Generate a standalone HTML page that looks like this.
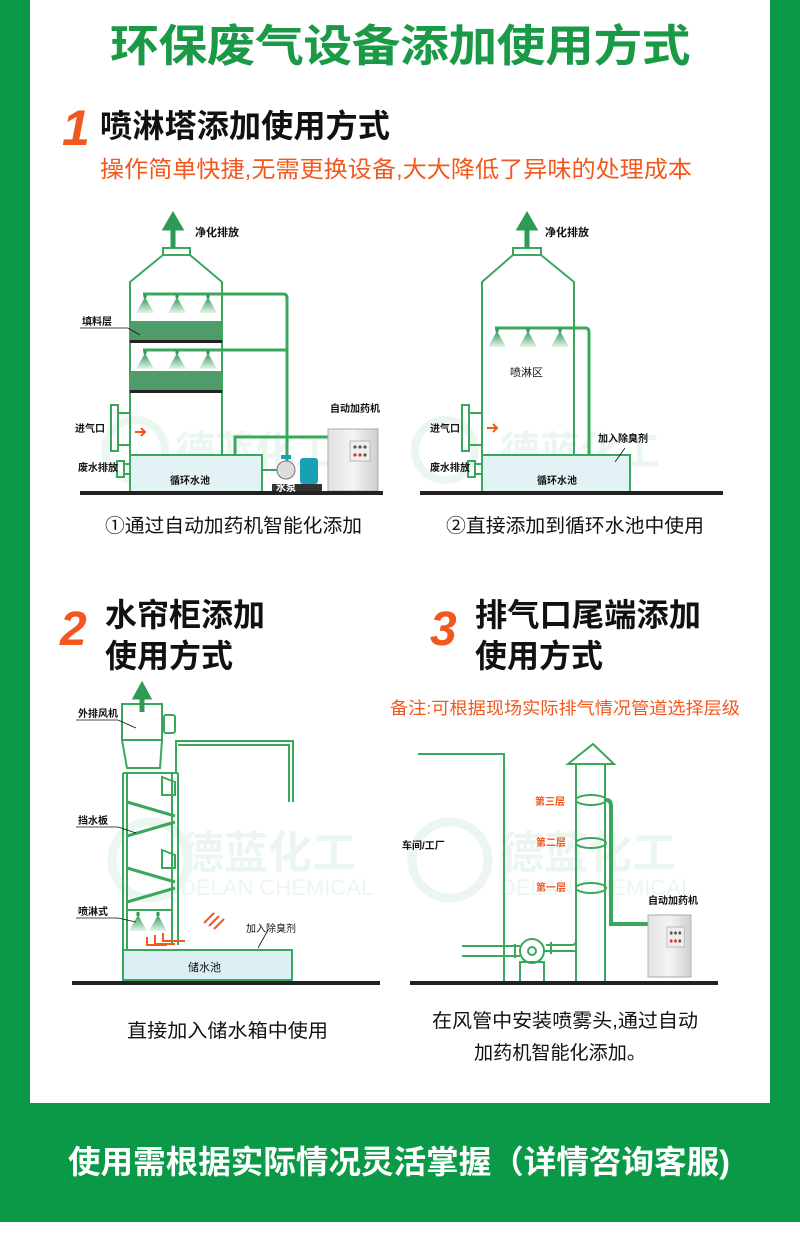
<!DOCTYPE html>
<html><head><meta charset="utf-8"><style>
body{margin:0;width:800px;height:1260px;position:relative;background:#fff;overflow:hidden;font-family:"Liberation Sans","Noto Sans CJK SC",sans-serif}
.g{position:absolute;background:#0a9a47}
svg{position:absolute;left:0;top:0}
</style></head><body>
<div class="g" style="left:0;top:0;width:30px;height:1222px"></div>
<div class="g" style="left:770px;top:0;width:30px;height:1222px"></div>
<div class="g" style="left:0;top:1103px;width:800px;height:119px"></div>
<div style="position:absolute;left:700px;top:1040px;width:70px;height:63px;background:#fff;border-bottom-right-radius:26px"></div>
<svg width="800" height="1260" viewBox="0 0 800 1260" font-family="Liberation Sans,Noto Sans CJK SC,sans-serif">
<defs>
<linearGradient id="noz" x1="0" y1="0" x2="0" y2="1"><stop offset="0" stop-color="#2e9a55"/><stop offset="1" stop-color="#e8f4ec"/></linearGradient>
<linearGradient id="cab" x1="0" y1="0" x2="1" y2="0"><stop offset="0" stop-color="#e2e2e2"/><stop offset="0.5" stop-color="#f4f4f4"/><stop offset="1" stop-color="#cfcfcf"/></linearGradient>
<g id="nz"><rect x="-1.5" y="0" width="3" height="4" fill="#2e9a55"/><path d="M0,3 L-9,19 L9,19 Z" fill="url(#noz)"/></g>
<g id="cabinet"><rect x="0" y="0" width="50" height="62" fill="url(#cab)" stroke="#aaa"/><rect x="22" y="12" width="20" height="20" fill="#eee" stroke="#999" stroke-width=".6"/><circle cx="27" cy="18" r="1.6" fill="#555"/><circle cx="32" cy="18" r="1.6" fill="#555"/><circle cx="37" cy="18" r="1.6" fill="#555"/><circle cx="27" cy="26" r="1.6" fill="#d33"/><circle cx="32" cy="26" r="1.6" fill="#d33"/><circle cx="37" cy="26" r="1.6" fill="#555"/></g>
</defs>
<!-- Title -->
<text x="400" y="61" text-anchor="middle" font-size="44" letter-spacing="-0.5" font-weight="bold" fill="#1a9a47" textLength="580" lengthAdjust="spacingAndGlyphs">环保废气设备添加使用方式</text>
<text x="62" y="145" font-size="50" font-weight="bold" font-style="italic" fill="#f2581d">1</text>
<text x="100" y="137" font-size="32" font-weight="bold" fill="#111" textLength="290" lengthAdjust="spacingAndGlyphs">喷淋塔添加使用方式</text>
<text x="100" y="177" font-size="23" fill="#f2581d" textLength="592" lengthAdjust="spacingAndGlyphs">操作简单快捷,无需更换设备,大大降低了异味的处理成本</text>

<!-- watermarks -->
<g fill="#0a9a47" opacity="0.08" font-weight="bold">
<text x="175" y="465" font-size="40">德蓝化工</text><circle cx="135" cy="450" r="30" fill="none" stroke="#0a9a47" stroke-width="8"/>
<text x="500" y="465" font-size="40">德蓝化工</text><circle cx="445" cy="450" r="30" fill="none" stroke="#0a9a47" stroke-width="8"/>
<text x="180" y="868" font-size="44">德蓝化工</text><text x="180" y="895" font-size="22" font-weight="normal">DELAN CHEMICAL</text><circle cx="150" cy="860" r="38" fill="none" stroke="#0a9a47" stroke-width="9"/>
<text x="500" y="868" font-size="44">德蓝化工</text><text x="500" y="895" font-size="22" font-weight="normal">DELAN CHEMICAL</text><circle cx="450" cy="860" r="38" fill="none" stroke="#0a9a47" stroke-width="9"/>
</g>

<!-- Diagram 1 -->
<g stroke="#3aa85c" stroke-width="2" fill="none">
<path d="M130,455 V282 L163,255 M222,455 V282 L190,255"/>
<rect x="163" y="248" width="27" height="7"/>
<path d="M143,294 H283 Q287,294 287,298 V462 M143,350 H287" stroke-width="3"/>
<path d="M111,405 h7 v46 h-7 z M118,413 h12 M118,445 h12"/>
<path d="M378,437 H235 V493" stroke-width="3"/>
<path d="M262,470 H280"/>
</g>
<rect x="130" y="321" width="92" height="20" fill="#4f9c6a"/><rect x="130" y="340" width="92" height="3" fill="#222"/>
<rect x="130" y="371" width="92" height="20" fill="#4f9c6a"/><rect x="130" y="390" width="92" height="3" fill="#222"/>
<use href="#nz" x="145" y="294"/><use href="#nz" x="177" y="294"/><use href="#nz" x="208" y="294"/>
<use href="#nz" x="145" y="350"/><use href="#nz" x="177" y="350"/><use href="#nz" x="208" y="350"/>
<path d="M173,248 V226 M166,228 L173,216 L180,228 Z" stroke="#2e9a55" stroke-width="5" fill="#2e9a55"/>
<rect x="130" y="455" width="132" height="37" fill="#e3f2f5" stroke="#3aa85c" stroke-width="2"/>
<path d="M117,461 h7 v16 h-7z M124,464 h6 M124,474 h6" stroke="#3aa85c" fill="none" stroke-width="2"/>
<path d="M135,432 h10 M141,428 l4,4 l-4,4" stroke="#f2581d" stroke-width="2" fill="none"/>
<rect x="272" y="484" width="50" height="9" fill="#333"/>
<circle cx="286" cy="470" r="9" fill="#ddd" stroke="#777"/><rect x="300" y="458" width="18" height="26" rx="3" fill="#1aa0b5"/><rect x="281" y="455" width="10" height="4" fill="#1aa0b5"/>
<use href="#cabinet" x="328" y="429"/>
<rect x="80" y="491" width="303" height="4" fill="#222"/>
<g font-size="10" font-weight="bold" fill="#111">
<text x="195" y="236" font-size="11">净化排放</text>
<text x="82" y="325">填料层</text><path d="M80,328 H128 L140,335" stroke="#111" fill="none" stroke-width=".8"/>
<text x="75" y="432">进气口</text><text x="78" y="471">废水排放</text>
<text x="170" y="484">循环水池</text><text x="276" y="491" fill="#fff">水泵</text>
<text x="330" y="412">自动加药机</text>
</g>

<!-- Diagram 2 -->
<g stroke="#3aa85c" stroke-width="2" fill="none">
<path d="M482,455 V282 L513,255 M574,455 V282 L541,255"/>
<rect x="513" y="248" width="28" height="7"/>
<path d="M495,328 H585 Q589,328 589,332 V455" stroke-width="3"/>
<path d="M462,405 h7 v46 h-7 z M469,413 h13 M469,445 h13"/>
</g>
<use href="#nz" x="497" y="328"/><use href="#nz" x="528" y="328"/><use href="#nz" x="560" y="328"/>
<path d="M527,248 V226 M520,228 L527,216 L534,228 Z" stroke="#2e9a55" stroke-width="5" fill="#2e9a55"/>
<rect x="482" y="455" width="148" height="37" fill="#e3f2f5" stroke="#3aa85c" stroke-width="2"/>
<path d="M468,461 h7 v16 h-7z M475,464 h7 M475,474 h7" stroke="#3aa85c" fill="none" stroke-width="2"/>
<path d="M487,428 h10 M493,424 l4,4 l-4,4" stroke="#f2581d" stroke-width="2" fill="none"/>
<path d="M625,448 L615,462" stroke="#111" stroke-width=".8"/>
<rect x="420" y="491" width="303" height="4" fill="#222"/>
<g font-size="10" font-weight="bold" fill="#111">
<text x="545" y="236" font-size="11">净化排放</text><text x="510" y="376" font-size="11" font-weight="normal">喷淋区</text>
<text x="430" y="432">进气口</text><text x="430" y="471">废水排放</text>
<text x="537" y="484">循环水池</text><text x="598" y="442">加入除臭剂</text>
</g>
<g font-size="19" fill="#111">
<text x="105" y="532" textLength="257" lengthAdjust="spacingAndGlyphs">①通过自动加药机智能化添加</text>
<text x="446" y="532" textLength="258" lengthAdjust="spacingAndGlyphs">②直接添加到循环水池中使用</text>
</g>

<!-- Section 2 & 3 headers -->
<text x="60" y="645" font-size="48" font-weight="bold" font-style="italic" fill="#f2581d">2</text>
<text x="105" y="626" font-size="32" font-weight="bold" fill="#111" textLength="160" lengthAdjust="spacingAndGlyphs">水帘柜添加</text>
<text x="105" y="667" font-size="32" font-weight="bold" fill="#111" textLength="128" lengthAdjust="spacingAndGlyphs">使用方式</text>
<text x="430" y="645" font-size="48" font-weight="bold" font-style="italic" fill="#f2581d">3</text>
<text x="475" y="626" font-size="32" font-weight="bold" fill="#111" textLength="226" lengthAdjust="spacingAndGlyphs">排气口尾端添加</text>
<text x="475" y="667" font-size="32" font-weight="bold" fill="#111" textLength="128" lengthAdjust="spacingAndGlyphs">使用方式</text>
<text x="390" y="714" font-size="17" fill="#f2581d" textLength="350" lengthAdjust="spacingAndGlyphs">备注:可根据现场实际排气情况管道选择层级</text>

<!-- Diagram 3 -->
<g stroke="#3aa85c" stroke-width="2" fill="none">
<rect x="122" y="704" width="40" height="36"/>
<path d="M122,740 L127,768 H160 L162,740"/>
<rect x="164" y="715" width="11" height="18" rx="2"/>
<path d="M123,773 H178 M176,773 V741 H293 V802 M178,745 H289 V802"/>
<path d="M123,773 V950 M127,773 V950 M172,773 V945 M178,773 V945"/>
<path d="M162,777 L175,782 V795 H162 Z M162,850 L175,855 V868 H162 Z"/>
<path d="M127,802 L175,816 M175,822 L127,836 M127,868 L175,882 M175,888 L127,902" stroke-width="3"/>
<path d="M127,910 H172"/>
</g>
<use href="#nz" x="138" y="912"/><use href="#nz" x="158" y="912"/>
<path d="M142,712 V694 M136,697 L142,686 L148,697 Z" stroke="#2e9a55" stroke-width="5" fill="#2e9a55"/>
<g stroke="#f2581d" stroke-width="2" fill="none">
<path d="M147,937 v8 h20 M155,935 v9 h20 M163,933 v8 h22"/>
<path d="M204,923 l10,-10 M209,926 l10,-10 M214,929 l10,-10"/>
</g>
<rect x="123" y="950" width="169" height="30" fill="#dbeff3" stroke="#3aa85c" stroke-width="2"/>
<path d="M268,930 L258,948" stroke="#111" stroke-width=".8"/>
<rect x="72" y="981" width="308" height="4" fill="#222"/>
<g font-size="10" font-weight="bold" fill="#111">
<text x="78" y="717">外排风机</text><path d="M76,720 H118 L136,728" stroke="#111" fill="none" stroke-width=".8"/>
<text x="78" y="824">挡水板</text><path d="M76,827 H118 L136,833" stroke="#111" fill="none" stroke-width=".8"/>
<text x="78" y="915">喷淋式</text><path d="M76,918 H118 L136,922" stroke="#111" fill="none" stroke-width=".8"/>
<text x="246" y="932" font-weight="normal">加入除臭剂</text>
<text x="188" y="971" font-size="11" font-weight="normal">储水池</text>
</g>
<text x="127" y="1037" font-size="19" fill="#111" textLength="201" lengthAdjust="spacingAndGlyphs">直接加入储水箱中使用</text>

<!-- Diagram 4 -->
<g stroke="#3aa85c" stroke-width="2" fill="none">
<path d="M418,754 H504 V982"/>
<path d="M576,765 V982 M605,765 V982"/>
<path d="M568,764 L593,744 L614,764 Z"/>
<ellipse cx="591" cy="800" rx="15" ry="5"/><ellipse cx="591" cy="843" rx="15" ry="5"/><ellipse cx="591" cy="888" rx="15" ry="5"/>
<path d="M606,800 Q611,800 611,806 V924 H648" stroke-width="4"/>
<path d="M462,946 H520 M462,956 H520 M546,945 H572 Q576,945 576,940 M544,951 H576"/>
<circle cx="532" cy="951" r="12"/><circle cx="532" cy="951" r="4"/>
<rect x="520" y="962" width="24" height="20"/>
<path d="M515,944 v14 M551,942 v12"/>
</g>
<use href="#cabinet" x="648" y="915" transform="translate(648,915) scale(0.86,1) translate(-648,-915)"/>
<rect x="410" y="981" width="308" height="4" fill="#222"/>
<g font-size="10" font-weight="bold">
<text x="535" y="805" fill="#f2581d">第三层</text><text x="536" y="846" fill="#f2581d">第二层</text><text x="536" y="891" fill="#f2581d">第一层</text>
<text x="402" y="849" fill="#111">车间/工厂</text><text x="648" y="904" fill="#111">自动加药机</text>
</g>
<text x="432" y="1027" font-size="19" fill="#111" textLength="266" lengthAdjust="spacingAndGlyphs">在风管中安装喷雾头,通过自动</text>
<text x="474" y="1059" font-size="19" fill="#111" textLength="172" lengthAdjust="spacingAndGlyphs">加药机智能化添加。</text>

<text x="68" y="1173" font-size="32" font-weight="bold" fill="#fff" textLength="662" lengthAdjust="spacingAndGlyphs">使用需根据实际情况灵活掌握（详情咨询客服)</text>
</svg>
</body></html>
